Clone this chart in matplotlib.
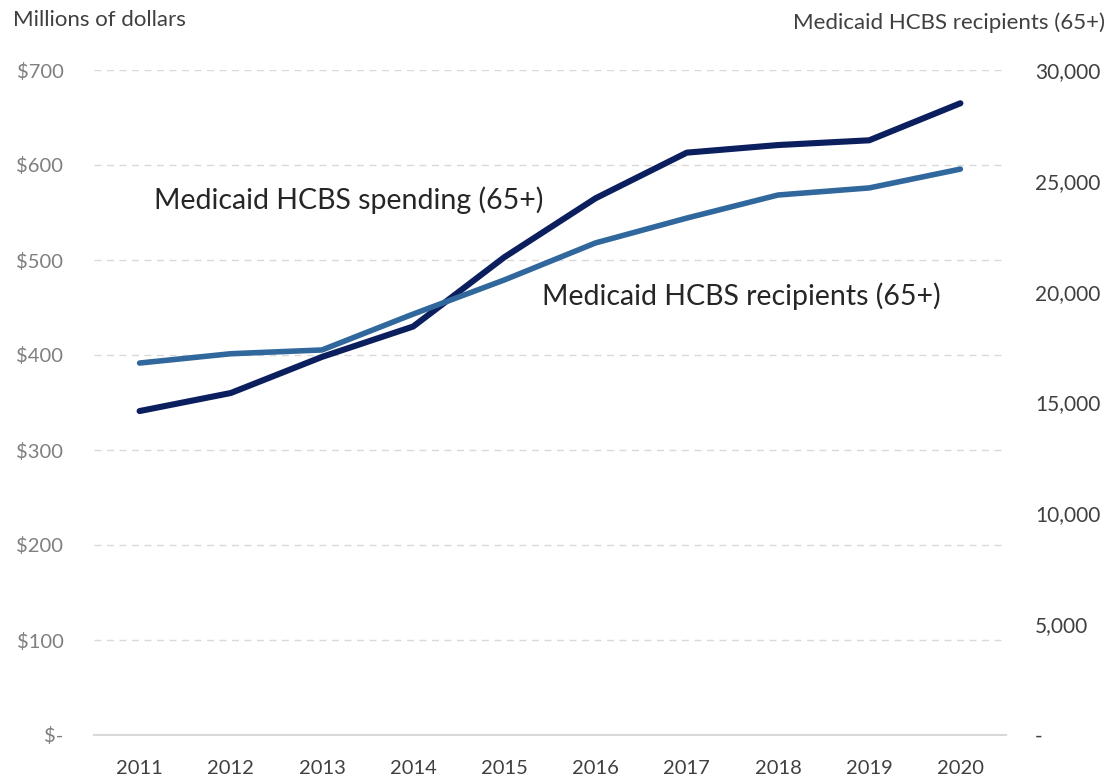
import matplotlib
matplotlib.use("Agg")
import matplotlib.pyplot as plt
from matplotlib.ticker import FixedLocator, FuncFormatter

plt.rcParams["font.family"] = ["Lato", "DejaVu Sans"]

years = ["2011", "2012", "2013", "2014", "2015", "2016", "2017", "2018", "2019", "2020"]
spending = [341, 360, 398, 430, 503, 565, 613, 621, 626, 665]  # millions of dollars
recipients = [16780, 17200, 17370, 18990, 20530, 22200, 23320, 24360, 24680, 25530]

left_ticks = [0, 100, 200, 300, 400, 500, 600, 700]
right_ticks = [0, 5000, 10000, 15000, 20000, 25000, 30000]

DARK = "#0B1F5E"
LIGHT = "#30679C"
GRID = "#D9D9D9"


def dollar_fmt(v, pos):
    return "$-" if v == 0 else f"${v:,.0f}"


def count_fmt(v, pos):
    return "-" if v == 0 else f"{v:,.0f}"


def main():
    fig = plt.figure(figsize=(11.1, 7.8), dpi=100)
    ax = fig.add_axes([94 / 1110, 1 - 735 / 780, 912 / 1110, 665 / 780])
    ax2 = ax.twinx()

    x = list(range(len(years)))
    ax.plot(x, spending, color=DARK, lw=4.4, solid_capstyle="round", zorder=3)
    ax2.plot(x, recipients, color=LIGHT, lw=4.0, solid_capstyle="round", zorder=3)

    ax.set_xlim(-0.5, len(years) - 0.5)
    ax.set_ylim(0, 700)
    ax2.set_ylim(0, 30000)

    ax.set_xticks(x)
    ax.set_xticklabels(years)
    ax.yaxis.set_major_locator(FixedLocator(left_ticks))
    ax.yaxis.set_major_formatter(FuncFormatter(dollar_fmt))
    ax2.yaxis.set_major_locator(FixedLocator(right_ticks))
    ax2.yaxis.set_major_formatter(FuncFormatter(count_fmt))

    ax.grid(axis="y", color=GRID, linestyle=(0, (5, 4)), lw=1.0)
    ax.set_axisbelow(True)
    for a in (ax, ax2):
        for side in ("top", "left", "right", "bottom"):
            a.spines[side].set_visible(False)
    ax.axhline(0, color=GRID, lw=1.5, zorder=1, clip_on=False)

    ax.tick_params(axis="x", length=0, pad=18, labelsize=14.5, labelcolor="#404040")
    ax.tick_params(axis="y", length=0, pad=22, labelsize=14.5, labelcolor="#7F7F7F")
    ax2.tick_params(axis="y", length=0, pad=21, labelsize=15, labelcolor="#404040")

    fig.text(13 / 1110, 1 - 20 / 780, "Millions of dollars", fontsize=16,
             color="#404040", ha="left", va="center")
    fig.text(1105 / 1110, 1 - 23 / 780, "Medicaid HCBS recipients (65+)", fontsize=16,
             color="#404040", ha="right", va="center")

    ax.text(0.16, 563, "Medicaid HCBS spending (65+)", fontsize=20.5,
            color="#262626", ha="left", va="center")
    ax.text(4.41, 462, "Medicaid HCBS recipients (65+)", fontsize=20.5,
            color="#262626", ha="left", va="center")

    fig.savefig("out.png", dpi=100)
    plt.close(fig)


if __name__ == "__main__":
    main()
